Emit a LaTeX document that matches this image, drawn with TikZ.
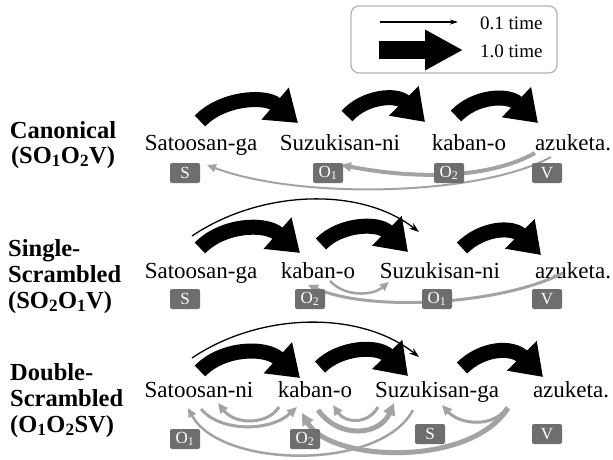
\documentclass[tikz,border=0pt]{standalone}
\usepackage{fontspec}
\setmainfont{Liberation Serif}
\usetikzlibrary{arrows.meta}
\definecolor{tagcol}{HTML}{6E6E6E}
\definecolor{arrgray}{HTML}{A3A3A3}
\definecolor{boxcol}{HTML}{B4B4B4}
\begin{document}
\begin{tikzpicture}[x=1pt,y=-1pt,
  word/.style={font=\fontsize{23}{27}\selectfont, inner sep=0pt, anchor=base},
  lab/.style={font=\bfseries\fontsize{24.5}{27}\selectfont, inner sep=0pt, anchor=base},
  tag/.style={fill=tagcol, rounded corners=2pt, text=white, font=\fontsize{17}{17}\selectfont,
    minimum width=30pt, minimum height=20pt, inner sep=0pt},
  big/.style={line width=15pt, black, -{Triangle[length=30pt,width=40pt]}},
  thinblk/.style={line width=1.3pt, black, -{Stealth[length=10pt,width=7pt]}},
  gthin/.style={line width=2pt, arrgray, -{Triangle[length=9pt,width=8pt]}},
  gmed/.style={line width=3pt, arrgray, -{Triangle[length=10pt,width=9pt]}},
  gthick/.style={line width=5pt, arrgray, -{Triangle[length=12pt,width=12pt]}},
  legtxt/.style={font=\fontsize{19}{22}\selectfont, inner sep=0pt, anchor=base west}]
\useasboundingbox (0,0) rectangle (613,459);

% ---------- legend ----------
\node[draw=boxcol, line width=1.3pt, rounded corners=8pt, minimum width=206pt, minimum height=67pt, inner sep=0pt] (legend) at (454,39.5) {};
\coordinate (l1s) at (380,22);
\coordinate (l1e) at (458,22);
\coordinate (l2s) at (379,50);
\coordinate (l2e) at (463,50);
\draw[line width=1.2pt, -{Stealth[length=8pt,width=5pt]}] (l1s) -- (l1e);
\draw[line width=18pt, -{Triangle[length=38pt,width=38pt]}] (l2s) -- (l2e);
\node[legtxt] (lt1) at (480,29) {0.1 time};
\node[legtxt] (lt2) at (480,57) {1.0 time};

% ---------- row labels ----------
\node[lab, anchor=base] (c1) at (63,138) {Canonical};
\node[lab, anchor=base] (c2) at (63,163) {(SO\textsubscript{1}O\textsubscript{2}V)};
\node[lab, anchor=base west] (s1) at (8,256) {Single-};
\node[lab, anchor=base west] (s2) at (8,282) {Scrambled};
\node[lab, anchor=base west] (s3) at (8,308) {(SO\textsubscript{2}O\textsubscript{1}V)};
\node[lab, anchor=base west] (d1) at (10,380) {Double-};
\node[lab, anchor=base west] (d2) at (10,406) {Scrambled};
\node[lab, anchor=base west] (d3) at (10,432) {(O\textsubscript{1}O\textsubscript{2}SV)};

% ---------- row 1 ----------
\node[word] (r1a) at (201,150) {Satoosan-ga};
\node[word] (r1b) at (340,150) {Suzukisan-ni};
\node[word] (r1c) at (469,150) {kaban-o};
\node[word] (r1d) at (573,150) {azuketa.};

\coordinate (a1s) at (200,121); \coordinate (a1e) at (298,123);
\coordinate (a2s) at (347,116); \coordinate (a2e) at (425,122);
\coordinate (a3s) at (456,116); \coordinate (a3e) at (538,123);
\draw[big] (a1s) .. controls (222,98) and (265,95) .. (a1e);
\draw[big] (a2s) .. controls (365,96) and (397,94) .. (a2e);
\draw[big] (a3s) .. controls (475,96) and (508,94) .. (a3e);

\coordinate (g1s) at (551,157); \coordinate (g1e) at (207,165);
\coordinate (g2s) at (535,153); \coordinate (g2e) at (341,165);
\draw[gthin] (g1s) .. controls (480,196) and (300,200) .. (g1e);
\draw[gmed, line width=4pt] (g2s) .. controls (490,178) and (420,180) .. (g2e);

\node[tag] (t1s) at (185,173) {S};
\node[tag] (t1o1) at (328,173) {O\textsubscript{1}};
\node[tag] (t1o2) at (449,173) {O\textsubscript{2}};
\node[tag] (t1v) at (547,173) {V};

% ---------- row 2 ----------
\node[word] (r2a) at (201,278) {Satoosan-ga};
\node[word] (r2b) at (318,278) {kaban-o};
\node[word] (r2c) at (440,278) {Suzukisan-ni};
\node[word] (r2d) at (573,278) {azuketa.};

\coordinate (b0s) at (192,236); \coordinate (b0e) at (419,232);
\draw[thinblk] (b0s) .. controls (260,190) and (360,186) .. (b0e);
\coordinate (b1s) at (200,248); \coordinate (b1e) at (300,253);
\coordinate (b2s) at (321,244); \coordinate (b2e) at (408,252);
\coordinate (b3s) at (462,248); \coordinate (b3e) at (541,255);
\draw[big] (b1s) .. controls (222,225) and (265,222) .. (b1e);
\draw[big] (b2s) .. controls (340,224) and (378,222) .. (b2e);
\draw[big] (b3s) .. controls (482,228) and (512,226) .. (b3e);

\coordinate (h1s) at (330,281); \coordinate (h1e) at (389,282);
\coordinate (h2s) at (563,273); \coordinate (h2e) at (308,285);
\draw[gthin, line width=2.5pt] (h1s) .. controls (345,297) and (372,296) .. (h1e);
\draw[gmed] (h2s) .. controls (500,305) and (370,312) .. (h2e);

\node[tag] (t2s) at (185,299) {S};
\node[tag] (t2o2) at (310,299) {O\textsubscript{2}};
\node[tag] (t2o1) at (437,299) {O\textsubscript{1}};
\node[tag] (t2v) at (547,299) {V};

% ---------- row 3 ----------
\node[word] (r3a) at (199,397) {Satoosan-ni};
\node[word] (r3b) at (315,397) {kaban-o};
\node[word] (r3c) at (437,397) {Suzukisan-ga};
\node[word] (r3d) at (571,397) {azuketa.};

\coordinate (c0s) at (192,358); \coordinate (c0e) at (419,357);
\draw[thinblk] (c0s) .. controls (260,312) and (360,310) .. (c0e);
\coordinate (c1s) at (200,371); \coordinate (c1e) at (300,378);
\coordinate (c2s) at (320,367); \coordinate (c2e) at (408,376);
\coordinate (c3s) at (462,368); \coordinate (c3e) at (543,377);
\draw[big] (c1s) .. controls (222,348) and (265,346) .. (c1e);
\draw[big] (c2s) .. controls (340,347) and (378,345) .. (c2e);
\draw[big] (c3s) .. controls (482,348) and (512,346) .. (c3e);

\coordinate (ka) at (201,409); \coordinate (kae) at (297,407);
\coordinate (kb) at (279,407); \coordinate (kbe) at (218,403);
\coordinate (kc) at (318,410); \coordinate (kce) at (394,403);
\coordinate (kd) at (378,407); \coordinate (kde) at (333,405);
\coordinate (ke) at (507,407); \coordinate (kee) at (442,405);
\coordinate (kf) at (508,408); \coordinate (kfe) at (302,413);
\coordinate (kg) at (413,410); \coordinate (kge) at (188,408);
\draw[gthin, line width=2.5pt] (kg) .. controls (380,472) and (220,468) .. (kge);
\draw[gthick] (kf) .. controls (470,468) and (330,462) .. (kfe);
\draw[gmed] (ka) .. controls (220,432) and (270,432) .. (kae);
\draw[gmed] (kb) .. controls (268,425) and (235,425) .. (kbe);
\draw[gthick] (kc) .. controls (340,440) and (380,435) .. (kce);
\draw[gmed] (kd) .. controls (368,425) and (345,423) .. (kde);
\draw[gmed] (ke) .. controls (495,428) and (460,425) .. (kee);

\node[tag] (t3o1) at (185,439) {O\textsubscript{1}};
\node[tag] (t3o2) at (305,439) {O\textsubscript{2}};
\node[tag] (t3s) at (430,434) {S};
\node[tag] (t3v) at (547,434) {V};
\end{tikzpicture}
\end{document}
